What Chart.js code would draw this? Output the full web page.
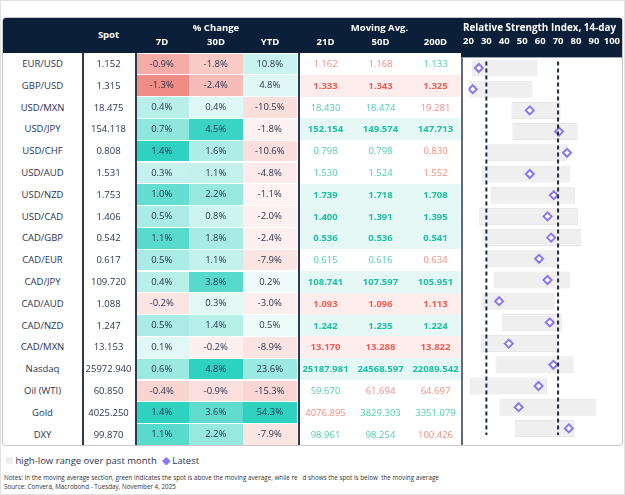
<!DOCTYPE html>
<html><head><meta charset="utf-8">
<script src="https://cdn.jsdelivr.net/npm/chart.js@4"></script>
<style>
body{margin:0;width:625px;height:495px;background:#fff;font-family:"Open Sans",sans-serif;position:relative;overflow:hidden}
#frame{position:absolute;left:0;top:0;width:623px;height:493px;border:1px solid #e2e2e2}
#box{position:absolute;left:2px;top:17px;width:619px;height:427px;border:1px solid #c9c9c9;border-radius:4px;overflow:hidden}
#head{position:absolute;left:0;top:0;width:100%;height:35px;background:#0c1f38}
.c{position:absolute;font-size:9.5px;color:#2a3550;text-align:center;line-height:21.8px;white-space:nowrap}
.h{position:absolute;color:#fff;font-weight:bold;font-size:9.5px;text-align:center}
.v{position:absolute;top:0;bottom:0;width:1.5px;background:#2a3a52}
#rsi{position:absolute;left:458px;top:0;width:161px;height:427px}
.note{position:absolute;left:4px;font-size:6.3px;color:#333}
</style></head><body>
<div id="frame"></div>
<div id="box"><div id="head"></div><div id="rsi"><canvas id="c" width="161" height="427" style="width:161px;height:427px"></canvas></div></div>
<div style="position:absolute;left:6px;top:452px;font-size:9.5px;color:#2a3550">
<span style="display:inline-block;width:7px;height:7px;background:#efefef"></span> high-low range over past month
&nbsp;<span style="color:#8b78f0;font-size:11px">&#9670;</span> Latest</div>
<div class="note" style="top:473px">Notes: In the moving average section, green indicates the spot is above the moving average, while re&nbsp;&nbsp;&nbsp;d shows the spot is below&nbsp;&nbsp;the moving average</div>
<div class="note" style="top:482px">Source: Convera, Macrobond - Tuesday, November 4, 2025</div>
<script>
const names = ["EUR/USD","GBP/USD","USD/MXN","USD/JPY","USD/CHF","USD/AUD","USD/NZD","USD/CAD","CAD/GBP","CAD/EUR","CAD/JPY","CAD/AUD","CAD/NZD","CAD/MXN","Nasdaq","Oil (WTI)","Gold","DXY"];
const spot = ["1.152","1.315","18.475","154.118","0.808","1.531","1.753","1.406","0.542","0.617","109.720","1.088","1.247","13.153","25972.940","60.850","4025.250","99.870"];
const chg7d = [-0.9,-1.3,0.4,0.7,1.4,0.3,1.0,0.5,1.1,0.5,0.4,-0.2,0.5,0.1,0.6,-0.4,1.4,1.1];
const chg30d = [-1.8,-2.4,0.4,4.5,1.6,1.1,2.2,0.8,1.8,1.1,3.8,0.3,1.4,-0.2,4.8,-0.9,3.6,2.2];
const chgYtd = [10.8,4.8,-10.5,-1.8,-10.6,-4.8,-1.1,-2.0,-2.4,-7.9,0.2,-3.0,0.5,-8.9,23.6,-15.3,54.3,-7.9];
const ma21 = ["1.162","1.333","18.430","152.154","0.798","1.530","1.739","1.400","0.536","0.615","108.741","1.093","1.242","13.170","25187.981","59.670","4076.895","98.961"];
const ma50 = ["1.168","1.343","18.474","149.574","0.798","1.524","1.718","1.391","0.536","0.616","107.597","1.096","1.235","13.288","24568.597","61.694","3829.303","98.254"];
const ma200 = ["1.133","1.325","19.281","147.713","0.830","1.552","1.708","1.395","0.541","0.634","105.951","1.113","1.224","13.822","22089.542","64.697","3351.079","100.426"];
const rsiLatest = [25.8,22.4,54.2,70.5,75,54.2,67.6,64.1,66.1,59.4,64.1,37.1,65.4,42.5,67.4,59.1,48,76];
const rsiLow = [21.8,20.4,44,44.5,30,27.6,32.4,26,27.8,30.4,34,27.4,38.5,26.9,35.1,20.9,37.3,45.8];
const rsiHigh = [58.5,55.8,71.4,80.9,75,76.9,79.6,81.2,83,70,76.9,68.1,72.1,69.6,78.7,63.8,91.4,79];
const rsiTicks = [20,30,40,50,60,70,80,90,100];

const box = document.getElementById('box');
const top0 = 35, rh = 21.8;
function add(cls, x, y, w, txt, css){const d=document.createElement('div');d.className=cls;d.style.left=x+'px';d.style.top=y+'px';d.style.width=w+'px';d.textContent=txt;if(css)Object.assign(d.style,css);box.appendChild(d);return d;}
function mix(a,b,t){return 'rgb('+a.map((v,i)=>Math.round(v+(b[i]-v)*t)).join(',')+')';}
const W=[255,255,255], G=[47,209,192], R=[238,132,124];
function heat(v,max){const t=Math.min(1,Math.abs(v)/max);return v>=0?mix(W,G,0.08+0.92*t):mix(W,R,0.08+0.92*t);}
const cols=[[chg7d,132],[chg30d,186],[chgYtd,240]];
const maCols=[[ma21,295],[ma50,350],[ma200,405]];
add('h',79,10,53,'Spot');
add('h',132,3,162,'% Change');
['7D','30D','YTD'].forEach((t,i)=>add('h',cols[i][1],17,54,t));
add('h',295,3,163,'Moving Avg.');
['21D','50D','200D'].forEach((t,i)=>add('h',maCols[i][1],17,55,t));
names.forEach((n,r)=>{
  const y=top0+r*rh;
  add('c',0,y,79,n);
  add('c',79,y,53,spot[r]);
  cols.forEach(([arr,x])=>{const m=Math.max(...arr.map(Math.abs));
    add('c',x,y+0.5,53.5,arr[r].toFixed(1)+'%',{background:heat(arr[r],m),height:(rh-1)+'px',lineHeight:(rh-1)+'px'});});
  const s=parseFloat(spot[r]);
  const up=maCols.map(([a])=>s>parseFloat(a[r]));
  const same=up.every(u=>u===up[0]);
  if(same) add('c',295,y,163,'',{background:up[0]?'#e5f8f5':'#fdeeed',height:rh+'px'});
  maCols.forEach(([a,x],i)=>add('c',x,y,55,a[r],{color:up[i]?(same?'#1fbfa2':'#52ccb6'):(same?'#ec5f58':'#f08f82'),fontWeight:same?'bold':'normal'}));
});
[79,132,295].forEach(x=>{const d=document.createElement('div');d.className='v';d.style.left=x+'px';d.style.top='35px';box.appendChild(d);});

const dashes={id:'dashes',afterDatasetsDraw(ch){const c=ch.ctx,xs=ch.scales.x,a=ch.chartArea;
  c.save();c.strokeStyle='#1c2a40';c.lineWidth=2;c.setLineDash([4,3]);
  [30,70].forEach(v=>{const x=xs.getPixelForValue(v);c.beginPath();c.moveTo(x,a.top+4);c.lineTo(x,a.bottom-4);c.stroke();});
  c.setLineDash([]);c.strokeStyle='#2a3a52';c.lineWidth=1.5;c.beginPath();c.moveTo(1,a.top);c.lineTo(1,ch.height);c.stroke();c.restore();}};
const navy={id:'navy',beforeDraw(ch){const c=ch.ctx;c.save();c.fillStyle='#0c1f38';c.fillRect(0,0,ch.width,ch.chartArea.top);c.restore();}};
new Chart(document.getElementById('c'),{
  type:'bar',
  data:{labels:names,datasets:[
    {type:'line',data:names.map((n,i)=>({x:rsiLatest[i],y:n})),showLine:false,pointStyle:'rectRot',pointRadius:4,pointBorderWidth:2,pointBorderColor:'#8b78f0',pointBackgroundColor:'#fff'},
    {data:names.map((n,i)=>[rsiLow[i],rsiHigh[i]]),backgroundColor:'#efefef',borderColor:'#e6e6e6',borderWidth:1,borderSkipped:false,barPercentage:0.8,categoryPercentage:1}
  ]},
  options:{indexAxis:'y',responsive:false,animation:false,devicePixelRatio:1,
    layout:{padding:{left:2,right:6,top:0,bottom:0}},
    plugins:{legend:{display:false},tooltip:{enabled:false},
      title:{display:true,text:'Relative Strength Index, 14-day',color:'#fff',font:{family:'Open Sans',size:10,weight:'bold'},padding:{top:4,bottom:0}}},
    scales:{
      x:{position:'top',min:20,max:100,afterBuildTicks(s){s.ticks=rsiTicks.map(v=>({value:v}));},
        ticks:{color:'#fff',font:{family:'Open Sans',size:9.5,weight:'bold'},padding:2,maxRotation:0,autoSkip:false},
        grid:{display:false},border:{display:false}},
      y:{display:false,offset:true}
    }},
  plugins:[navy,dashes]
});
</script>
</body></html>
